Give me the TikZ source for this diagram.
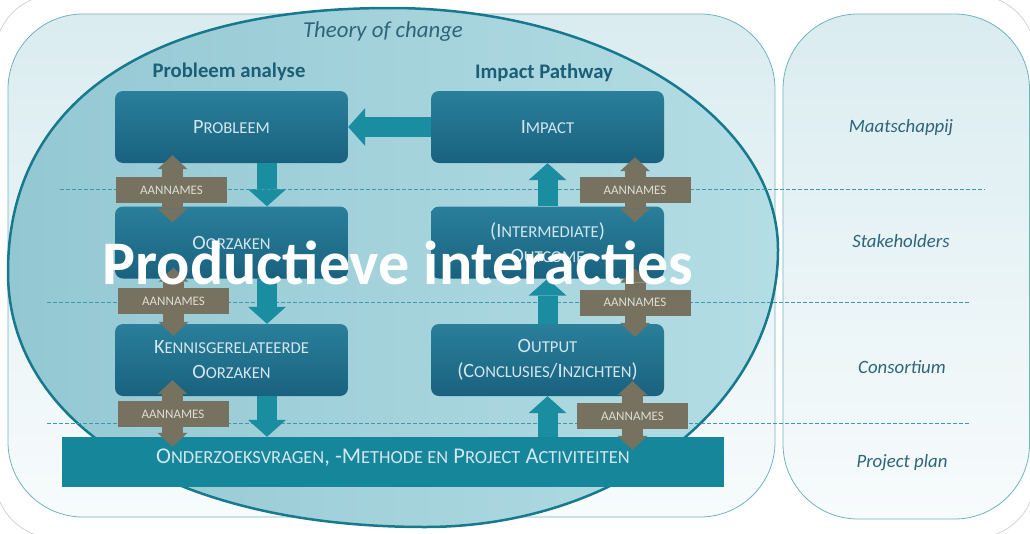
\documentclass[tikz,border=0pt]{standalone}
\usepackage{fontspec}
\setmainfont{Carlito}
\newfontfamily\kleinkap{Carlito}[Scale=0.82]
\usetikzlibrary{arrows.meta}
\definecolor{rand}{HTML}{6FB3BE}
\definecolor{vlakboven}{HTML}{DAECF0}
\definecolor{vlakonder}{HTML}{F7FBFC}
\definecolor{ovaalrand}{HTML}{17798E}
\definecolor{ovaallinks}{HTML}{93C8D3}
\definecolor{ovaalrechts}{HTML}{B4DDE4}
\definecolor{blokboven}{HTML}{2A7F9B}
\definecolor{blokonder}{HTML}{19627F}
\definecolor{bloktekst}{HTML}{D3E6EE}
\definecolor{pijlkleur}{HTML}{1A8DA1}
\definecolor{balkkleur}{HTML}{16869B}
\definecolor{aankleur}{HTML}{77725F}
\definecolor{aantekst}{HTML}{DCDDD3}
\definecolor{kopkleur}{HTML}{1A5E77}
\definecolor{laagkleur}{HTML}{2E6579}
\definecolor{stippelkleur}{HTML}{3E9AAB}
\newcommand\kk[1]{{\kleinkap #1}}
\tikzset{
    vlak/.style={draw=rand, line width=0.8pt, rounded corners=75pt, top color=vlakboven, bottom color=vlakonder},
    ovaal/.style={draw=ovaalrand, line width=2.5pt, left color=ovaallinks, right color=ovaalrechts},
    stippel/.style={draw=stippelkleur, line width=0.8pt, dash pattern=on 3.5pt off 2.5pt},
    blok/.style={rounded corners=8pt, top color=blokboven, bottom color=blokonder, text=bloktekst, minimum width=233pt, minimum height=72pt, inner sep=0pt, align=center, font=\fontsize{20.3}{25}\selectfont},
    balk/.style={fill=balkkleur, text=bloktekst, minimum width=662pt, minimum height=50pt, inner sep=0pt, text depth=12pt, font=\fontsize{22.5}{26}\selectfont},
    pijl/.style={draw=pijlkleur, line width=20pt, arrows={-Triangle[width=38pt, length=17pt, line width=0pt]}},
    aanpijl/.style={draw=aankleur, line width=21pt, arrows={Triangle[width=30pt, length=14pt, line width=0pt]-Triangle[width=30pt, length=14pt, line width=0pt]}},
    aanbox/.style={fill=aankleur, text=aantekst, minimum width=111pt, minimum height=26pt, inner sep=0pt, font=\fontsize{13}{15}\selectfont},
    kop/.style={text=kopkleur, font=\bfseries\fontsize{20.7}{24}\selectfont},
    laag/.style={text=laagkleur, font=\itshape\fontsize{18.8}{22}\selectfont}
}
\begin{document}
\begin{tikzpicture}[x=1pt, y=-1pt]
        \useasboundingbox (0,0) rectangle (1030,533);
        \draw[gray!35, line width=0.8pt, rounded corners=60pt] (-5,-5) rectangle (1035,538);
        \draw[vlak] (8,14) rectangle (775,517);
        \draw[vlak] (783,14) rectangle (1029.5,519);
        \draw[ovaal] (8,272) .. controls (8,103) and (146,8) .. (390,8) .. controls (604,8) and (778,116) .. (778,250) .. controls (778,403) and (620,527) .. (425,527) .. controls (175,527) and (8,425) .. (8,272) -- cycle;
        \draw[stippel] (60,189) -- (985,189);
        \draw[stippel] (47,302) -- (970,302);
        \draw[stippel] (47,423) -- (970,423);

        \node[text=laagkleur, font=\itshape\fontsize{22.8}{26}\selectfont] (theorie) at (383,32) {Theory of change};
        \node[kop] (kopprobleem) at (229,72) {Probleem analyse};
        \node[kop] (kopimpact) at (544,73) {Impact Pathway};
        \node[laag] (maatschappij) at (901,128) {Maatschappij};
        \node[laag] (stakeholders) at (901,241) {Stakeholders};
        \node[laag] (consortium) at (902,367) {Consortium};
        \node[laag] (projectplan) at (902,463) {Project plan};

        \node[blok] (probleem) at (231.5,127) {P\kk{ROBLEEM}};
        \node[blok] (oorzaken) at (231.5,242.5) {O\kk{ORZAKEN}};
        \node[blok] (kennis) at (231.5,360) {K\kk{ENNISGERELATEERDE}\\O\kk{ORZAKEN}};
        \node[blok] (impact) at (547.5,127) {I\kk{MPACT}};
        \node[blok] (outcome) at (547.5,242.5) {(I\kk{NTERMEDIATE})\\O\kk{UTCOME}};
        \node[blok] (output) at (547.5,360) {O\kk{UTPUT}\\(C\kk{ONCLUSIES}/I\kk{NZICHTEN})};
        \node[balk] (balk) at (393,462) {O\kk{NDERZOEKSVRAGEN}, -M\kk{ETHODE EN} P\kk{ROJECT} A\kk{CTIVITEITEN}};

        \coordinate (neer) at ([xshift=35.5pt]kennis.south);
        \draw[pijl] (impact.west) -- (probleem.east);
        \draw[pijl] ([xshift=35.5pt]probleem.south) -- ([xshift=35.5pt]oorzaken.north);
        \draw[pijl] ([xshift=35.5pt]oorzaken.south) -- ([xshift=35.5pt]kennis.north);
        \draw[pijl] (neer) -- (neer |- balk.north);
        \draw[pijl] (output.south |- balk.north) -- (output.south);
        \draw[pijl] (output.north) -- (outcome.south);
        \draw[pijl] (outcome.north) -- (impact.south);

        \coordinate (links) at ([xshift=-59pt]kennis.south);
        \coordinate (rechts) at ([xshift=85pt]output.south);
        \draw[aanpijl, shorten <=-8pt, shorten >=-16pt] ([xshift=-59pt]probleem.south) -- ([xshift=-59pt]oorzaken.north);
        \draw[aanpijl, shorten <=-11pt, shorten >=-12pt] ([xshift=-58pt]oorzaken.south) -- ([xshift=-58pt]kennis.north);
        \draw[aanpijl, shorten <=-16pt, shorten >=-10pt] (links) -- (links |- balk.north);
        \draw[aanpijl, shorten <=-6pt, shorten >=-16pt] ([xshift=87.5pt]impact.south) -- ([xshift=87.5pt]outcome.north);
        \draw[aanpijl, shorten <=-10pt, shorten >=-13pt] ([xshift=87.5pt]outcome.south) -- ([xshift=87.5pt]output.north);
        \draw[aanpijl, shorten <=-15pt, shorten >=-13pt] (rechts) -- (rechts |- balk.north);
        \node[aanbox] (aan1) at (171.5,190) {AANNAMES};
        \node[aanbox] (aan2) at (173.5,301) {AANNAMES};
        \node[aanbox] (aan3) at (173,414) {AANNAMES};
        \node[aanbox] (aan4) at (635,190) {AANNAMES};
        \node[aanbox] (aan5) at (635,302.5) {AANNAMES};
        \node[aanbox] (aan6) at (632.5,416) {AANNAMES};

        \node[text=white, anchor=base, font=\bfseries\fontsize{62}{62}\selectfont] (productief) at (398,284) {Productieve interacties};
\end{tikzpicture}
\end{document}
